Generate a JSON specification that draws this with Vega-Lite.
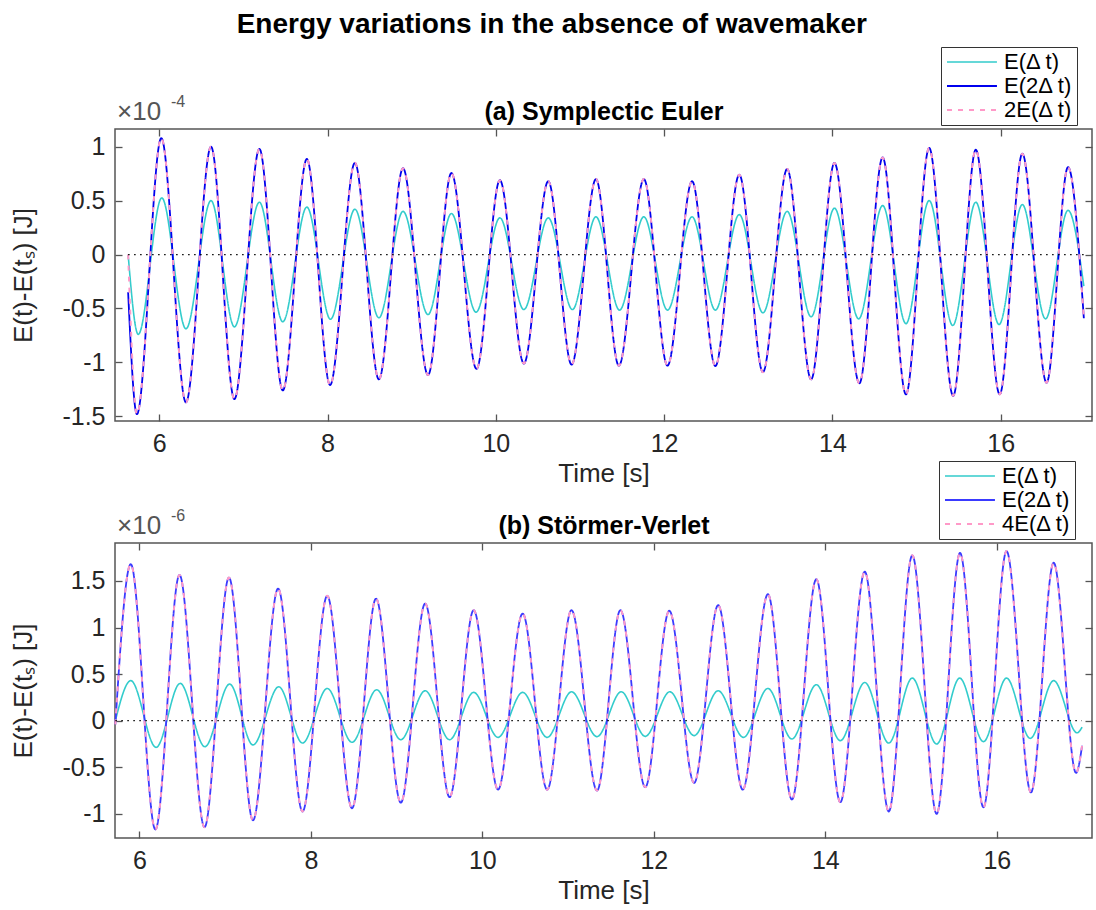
{
"$schema": "https://vega.github.io/schema/vega-lite/v6.json",
"background": "white",
"padding": {"left": 10, "top": 10, "right": 0, "bottom": 0},
"title": {"text": "Energy variations in the absence of wavemaker", "fontSize": 28, "fontWeight": "bold", "anchor": "middle", "color": "black", "offset": 7},
"datasets": {
"a": [
{"s":"E(Δ t)","t":5.63,"v":0},{"s":"E(Δ t)","t":5.75,"v":-0.74},{"s":"E(Δ t)","t":6.03,"v":0.525},{"s":"E(Δ t)","t":6.317,"v":-0.688},{"s":"E(Δ t)","t":6.615,"v":0.5},{"s":"E(Δ t)","t":6.893,"v":-0.67},{"s":"E(Δ t)","t":7.19,"v":0.485},{"s":"E(Δ t)","t":7.468,"v":-0.623},{"s":"E(Δ t)","t":7.754,"v":0.44},{"s":"E(Δ t)","t":8.035,"v":-0.6},{"s":"E(Δ t)","t":8.325,"v":0.42},{"s":"E(Δ t)","t":8.61,"v":-0.586},{"s":"E(Δ t)","t":8.897,"v":0.4},{"s":"E(Δ t)","t":9.194,"v":-0.556},{"s":"E(Δ t)","t":9.472,"v":0.38},{"s":"E(Δ t)","t":9.765,"v":-0.534},{"s":"E(Δ t)","t":10.048,"v":0.34},{"s":"E(Δ t)","t":10.333,"v":-0.51},{"s":"E(Δ t)","t":10.623,"v":0.34},{"s":"E(Δ t)","t":10.91,"v":-0.51},{"s":"E(Δ t)","t":11.19,"v":0.35},{"s":"E(Δ t)","t":11.47,"v":-0.515},{"s":"E(Δ t)","t":11.759,"v":0.35},{"s":"E(Δ t)","t":12.04,"v":-0.515},{"s":"E(Δ t)","t":12.332,"v":0.35},{"s":"E(Δ t)","t":12.609,"v":-0.515},{"s":"E(Δ t)","t":12.893,"v":0.37},{"s":"E(Δ t)","t":13.174,"v":-0.54},{"s":"E(Δ t)","t":13.462,"v":0.4},{"s":"E(Δ t)","t":13.747,"v":-0.577},{"s":"E(Δ t)","t":14.024,"v":0.43},{"s":"E(Δ t)","t":14.312,"v":-0.596},{"s":"E(Δ t)","t":14.597,"v":0.454},{"s":"E(Δ t)","t":14.874,"v":-0.64},{"s":"E(Δ t)","t":15.15,"v":0.5},{"s":"E(Δ t)","t":15.43,"v":-0.657},{"s":"E(Δ t)","t":15.704,"v":0.485},{"s":"E(Δ t)","t":15.98,"v":-0.648},{"s":"E(Δ t)","t":16.257,"v":0.463},{"s":"E(Δ t)","t":16.533,"v":-0.596},{"s":"E(Δ t)","t":16.8,"v":0.41},{"s":"E(Δ t)","t":16.988,"v":-0.293},
{"s":"E(2Δ t)","t":5.63,"v":-0.35},{"s":"E(2Δ t)","t":5.734,"v":-1.48},{"s":"E(2Δ t)","t":6.024,"v":1.08},{"s":"E(2Δ t)","t":6.317,"v":-1.37},{"s":"E(2Δ t)","t":6.615,"v":1.0},{"s":"E(2Δ t)","t":6.893,"v":-1.34},{"s":"E(2Δ t)","t":7.19,"v":0.98},{"s":"E(2Δ t)","t":7.468,"v":-1.26},{"s":"E(2Δ t)","t":7.754,"v":0.886},{"s":"E(2Δ t)","t":8.03,"v":-1.21},{"s":"E(2Δ t)","t":8.325,"v":0.85},{"s":"E(2Δ t)","t":8.61,"v":-1.157},{"s":"E(2Δ t)","t":8.897,"v":0.8},{"s":"E(2Δ t)","t":9.194,"v":-1.117},{"s":"E(2Δ t)","t":9.472,"v":0.756},{"s":"E(2Δ t)","t":9.77,"v":-1.06},{"s":"E(2Δ t)","t":10.048,"v":0.69},{"s":"E(2Δ t)","t":10.333,"v":-1.01},{"s":"E(2Δ t)","t":10.623,"v":0.68},{"s":"E(2Δ t)","t":10.9,"v":-1.02},{"s":"E(2Δ t)","t":11.19,"v":0.7},{"s":"E(2Δ t)","t":11.462,"v":-1.03},{"s":"E(2Δ t)","t":11.759,"v":0.7},{"s":"E(2Δ t)","t":12.04,"v":-1.03},{"s":"E(2Δ t)","t":12.332,"v":0.68},{"s":"E(2Δ t)","t":12.609,"v":-1.034},{"s":"E(2Δ t)","t":12.893,"v":0.74},{"s":"E(2Δ t)","t":13.174,"v":-1.09},{"s":"E(2Δ t)","t":13.462,"v":0.793},{"s":"E(2Δ t)","t":13.747,"v":-1.157},{"s":"E(2Δ t)","t":14.024,"v":0.849},{"s":"E(2Δ t)","t":14.32,"v":-1.194},{"s":"E(2Δ t)","t":14.597,"v":0.9},{"s":"E(2Δ t)","t":14.874,"v":-1.296},{"s":"E(2Δ t)","t":15.15,"v":0.988},{"s":"E(2Δ t)","t":15.435,"v":-1.31},{"s":"E(2Δ t)","t":15.704,"v":0.972},{"s":"E(2Δ t)","t":15.988,"v":-1.296},{"s":"E(2Δ t)","t":16.257,"v":0.935},{"s":"E(2Δ t)","t":16.545,"v":-1.188},{"s":"E(2Δ t)","t":16.8,"v":0.81},{"s":"E(2Δ t)","t":16.988,"v":-0.59},
{"s":"2E(Δ t)","t":5.63,"v":0},{"s":"2E(Δ t)","t":5.734,"v":-1.48},{"s":"2E(Δ t)","t":6.024,"v":1.08},{"s":"2E(Δ t)","t":6.317,"v":-1.37},{"s":"2E(Δ t)","t":6.615,"v":1.0},{"s":"2E(Δ t)","t":6.893,"v":-1.34},{"s":"2E(Δ t)","t":7.19,"v":0.98},{"s":"2E(Δ t)","t":7.468,"v":-1.26},{"s":"2E(Δ t)","t":7.754,"v":0.886},{"s":"2E(Δ t)","t":8.03,"v":-1.21},{"s":"2E(Δ t)","t":8.325,"v":0.85},{"s":"2E(Δ t)","t":8.61,"v":-1.157},{"s":"2E(Δ t)","t":8.897,"v":0.8},{"s":"2E(Δ t)","t":9.194,"v":-1.117},{"s":"2E(Δ t)","t":9.472,"v":0.756},{"s":"2E(Δ t)","t":9.77,"v":-1.06},{"s":"2E(Δ t)","t":10.048,"v":0.69},{"s":"2E(Δ t)","t":10.333,"v":-1.01},{"s":"2E(Δ t)","t":10.623,"v":0.68},{"s":"2E(Δ t)","t":10.9,"v":-1.02},{"s":"2E(Δ t)","t":11.19,"v":0.7},{"s":"2E(Δ t)","t":11.462,"v":-1.03},{"s":"2E(Δ t)","t":11.759,"v":0.7},{"s":"2E(Δ t)","t":12.04,"v":-1.03},{"s":"2E(Δ t)","t":12.332,"v":0.68},{"s":"2E(Δ t)","t":12.609,"v":-1.034},{"s":"2E(Δ t)","t":12.893,"v":0.74},{"s":"2E(Δ t)","t":13.174,"v":-1.09},{"s":"2E(Δ t)","t":13.462,"v":0.793},{"s":"2E(Δ t)","t":13.747,"v":-1.157},{"s":"2E(Δ t)","t":14.024,"v":0.849},{"s":"2E(Δ t)","t":14.32,"v":-1.194},{"s":"2E(Δ t)","t":14.597,"v":0.9},{"s":"2E(Δ t)","t":14.874,"v":-1.296},{"s":"2E(Δ t)","t":15.15,"v":0.988},{"s":"2E(Δ t)","t":15.435,"v":-1.31},{"s":"2E(Δ t)","t":15.704,"v":0.972},{"s":"2E(Δ t)","t":15.988,"v":-1.296},{"s":"2E(Δ t)","t":16.257,"v":0.935},{"s":"2E(Δ t)","t":16.545,"v":-1.188},{"s":"2E(Δ t)","t":16.8,"v":0.81},{"s":"2E(Δ t)","t":16.988,"v":-0.59}
],
"b": [
{"s":"E(Δ t)","t":5.72,"v":0},{"s":"E(Δ t)","t":5.9,"v":0.43},{"s":"E(Δ t)","t":6.195,"v":-0.286},{"s":"E(Δ t)","t":6.476,"v":0.4},{"s":"E(Δ t)","t":6.764,"v":-0.279},{"s":"E(Δ t)","t":7.053,"v":0.393},{"s":"E(Δ t)","t":7.325,"v":-0.26},{"s":"E(Δ t)","t":7.626,"v":0.364},{"s":"E(Δ t)","t":7.903,"v":-0.24},{"s":"E(Δ t)","t":8.191,"v":0.346},{"s":"E(Δ t)","t":8.48,"v":-0.232},{"s":"E(Δ t)","t":8.768,"v":0.332},{"s":"E(Δ t)","t":9.049,"v":-0.204},{"s":"E(Δ t)","t":9.333,"v":0.321},{"s":"E(Δ t)","t":9.618,"v":-0.204},{"s":"E(Δ t)","t":9.899,"v":0.304},{"s":"E(Δ t)","t":10.183,"v":-0.179},{"s":"E(Δ t)","t":10.47,"v":0.304},{"s":"E(Δ t)","t":10.756,"v":-0.179},{"s":"E(Δ t)","t":11.04,"v":0.31},{"s":"E(Δ t)","t":11.337,"v":-0.171},{"s":"E(Δ t)","t":11.62,"v":0.31},{"s":"E(Δ t)","t":11.9,"v":-0.168},{"s":"E(Δ t)","t":12.187,"v":0.31},{"s":"E(Δ t)","t":12.47,"v":-0.16},{"s":"E(Δ t)","t":12.75,"v":0.321},{"s":"E(Δ t)","t":13.045,"v":-0.179},{"s":"E(Δ t)","t":13.33,"v":0.346},{"s":"E(Δ t)","t":13.61,"v":-0.196},{"s":"E(Δ t)","t":13.895,"v":0.386},{"s":"E(Δ t)","t":14.175,"v":-0.214},{"s":"E(Δ t)","t":14.46,"v":0.41},{"s":"E(Δ t)","t":14.74,"v":-0.24},{"s":"E(Δ t)","t":15.014,"v":0.457},{"s":"E(Δ t)","t":15.298,"v":-0.25},{"s":"E(Δ t)","t":15.567,"v":0.457},{"s":"E(Δ t)","t":15.844,"v":-0.225},{"s":"E(Δ t)","t":16.113,"v":0.457},{"s":"E(Δ t)","t":16.39,"v":-0.19},{"s":"E(Δ t)","t":16.663,"v":0.43},{"s":"E(Δ t)","t":16.936,"v":-0.13},{"s":"E(Δ t)","t":16.994,"v":-0.07},
{"s":"E(2Δ t)","t":5.72,"v":-0.04},{"s":"E(2Δ t)","t":5.9,"v":1.68},{"s":"E(2Δ t)","t":6.187,"v":-1.168},{"s":"E(2Δ t)","t":6.468,"v":1.564},{"s":"E(2Δ t)","t":6.76,"v":-1.143},{"s":"E(2Δ t)","t":7.045,"v":1.536},{"s":"E(2Δ t)","t":7.325,"v":-1.07},{"s":"E(2Δ t)","t":7.618,"v":1.418},{"s":"E(2Δ t)","t":7.903,"v":-0.975},{"s":"E(2Δ t)","t":8.191,"v":1.34},{"s":"E(2Δ t)","t":8.48,"v":-0.94},{"s":"E(2Δ t)","t":8.76,"v":1.31},{"s":"E(2Δ t)","t":9.049,"v":-0.88},{"s":"E(2Δ t)","t":9.333,"v":1.257},{"s":"E(2Δ t)","t":9.618,"v":-0.82},{"s":"E(2Δ t)","t":9.899,"v":1.186},{"s":"E(2Δ t)","t":10.183,"v":-0.74},{"s":"E(2Δ t)","t":10.47,"v":1.15},{"s":"E(2Δ t)","t":10.756,"v":-0.74},{"s":"E(2Δ t)","t":11.04,"v":1.186},{"s":"E(2Δ t)","t":11.337,"v":-0.75},{"s":"E(2Δ t)","t":11.61,"v":1.186},{"s":"E(2Δ t)","t":11.9,"v":-0.714},{"s":"E(2Δ t)","t":12.18,"v":1.18},{"s":"E(2Δ t)","t":12.47,"v":-0.668},{"s":"E(2Δ t)","t":12.75,"v":1.24},{"s":"E(2Δ t)","t":13.037,"v":-0.74},{"s":"E(2Δ t)","t":13.33,"v":1.357},{"s":"E(2Δ t)","t":13.61,"v":-0.846},{"s":"E(2Δ t)","t":13.895,"v":1.518},{"s":"E(2Δ t)","t":14.175,"v":-0.875},{"s":"E(2Δ t)","t":14.46,"v":1.6},{"s":"E(2Δ t)","t":14.74,"v":-0.975},{"s":"E(2Δ t)","t":15.014,"v":1.775},{"s":"E(2Δ t)","t":15.298,"v":-1.0},{"s":"E(2Δ t)","t":15.571,"v":1.8},{"s":"E(2Δ t)","t":15.844,"v":-0.93},{"s":"E(2Δ t)","t":16.113,"v":1.82},{"s":"E(2Δ t)","t":16.398,"v":-0.77},{"s":"E(2Δ t)","t":16.663,"v":1.696},{"s":"E(2Δ t)","t":16.924,"v":-0.56},{"s":"E(2Δ t)","t":16.994,"v":-0.27},
{"s":"4E(Δ t)","t":5.72,"v":-0.04},{"s":"4E(Δ t)","t":5.9,"v":1.68},{"s":"4E(Δ t)","t":6.187,"v":-1.168},{"s":"4E(Δ t)","t":6.468,"v":1.564},{"s":"4E(Δ t)","t":6.76,"v":-1.143},{"s":"4E(Δ t)","t":7.045,"v":1.536},{"s":"4E(Δ t)","t":7.325,"v":-1.07},{"s":"4E(Δ t)","t":7.618,"v":1.418},{"s":"4E(Δ t)","t":7.903,"v":-0.975},{"s":"4E(Δ t)","t":8.191,"v":1.34},{"s":"4E(Δ t)","t":8.48,"v":-0.94},{"s":"4E(Δ t)","t":8.76,"v":1.31},{"s":"4E(Δ t)","t":9.049,"v":-0.88},{"s":"4E(Δ t)","t":9.333,"v":1.257},{"s":"4E(Δ t)","t":9.618,"v":-0.82},{"s":"4E(Δ t)","t":9.899,"v":1.186},{"s":"4E(Δ t)","t":10.183,"v":-0.74},{"s":"4E(Δ t)","t":10.47,"v":1.15},{"s":"4E(Δ t)","t":10.756,"v":-0.74},{"s":"4E(Δ t)","t":11.04,"v":1.186},{"s":"4E(Δ t)","t":11.337,"v":-0.75},{"s":"4E(Δ t)","t":11.61,"v":1.186},{"s":"4E(Δ t)","t":11.9,"v":-0.714},{"s":"4E(Δ t)","t":12.18,"v":1.18},{"s":"4E(Δ t)","t":12.47,"v":-0.668},{"s":"4E(Δ t)","t":12.75,"v":1.24},{"s":"4E(Δ t)","t":13.037,"v":-0.74},{"s":"4E(Δ t)","t":13.33,"v":1.357},{"s":"4E(Δ t)","t":13.61,"v":-0.846},{"s":"4E(Δ t)","t":13.895,"v":1.518},{"s":"4E(Δ t)","t":14.175,"v":-0.875},{"s":"4E(Δ t)","t":14.46,"v":1.6},{"s":"4E(Δ t)","t":14.74,"v":-0.975},{"s":"4E(Δ t)","t":15.014,"v":1.775},{"s":"4E(Δ t)","t":15.298,"v":-1.0},{"s":"4E(Δ t)","t":15.571,"v":1.8},{"s":"4E(Δ t)","t":15.844,"v":-0.93},{"s":"4E(Δ t)","t":16.113,"v":1.82},{"s":"4E(Δ t)","t":16.398,"v":-0.77},{"s":"4E(Δ t)","t":16.663,"v":1.696},{"s":"4E(Δ t)","t":16.924,"v":-0.56},{"s":"4E(Δ t)","t":16.994,"v":-0.27}
]
},
"spacing": 122,
"bounds": "flush",
"vconcat": [
{
"width": 977, "height": 292,
"layer": [
{"data": {"name": "a"},
 "mark": {"type": "line", "interpolate": "monotone"},
 "encoding": {
  "x": {"field": "t", "type": "quantitative", "scale": {"domain": [5.474, 17.085], "nice": false, "zero": false}, "axis": {"values": [6,8,10,12,14,16], "title": "Time [s]"}},
  "y": {"field": "v", "type": "quantitative", "scale": {"domain": [-1.543, 1.164], "nice": false, "zero": false}, "axis": {"values": [-1.5,-1,-0.5,0,0.5,1], "title": "E(t)-E(tₛ) [J]", "labelExpr": "'' + datum.value"}},
  "color": {"field": "s", "type": "nominal", "scale": {"domain": ["E(Δ t)","E(2Δ t)","2E(Δ t)"], "range": ["#33cccc","#0000ee","#ff99c8"]},
   "legend": {"orient": "none", "legendX": 826, "legendY": -82, "title": null, "symbolType": "M-1,0H4.55", "symbolSize": 324, "symbolStrokeWidth": 2, "labelFontSize": 22, "labelOffset": 37, "rowPadding": 2, "padding": 4, "strokeColor": "#333333", "fillColor": "white", "labelColor": "black"}},
  "strokeDash": {"field": "s", "type": "nominal", "scale": {"domain": ["E(Δ t)","E(2Δ t)","2E(Δ t)"], "range": [[1,0],[1,0],[5,6]]},
   "legend": {"orient": "none", "legendX": 826, "legendY": -82, "title": null, "symbolType": "M-1,0H4.55", "symbolSize": 324, "symbolStrokeWidth": 2, "labelFontSize": 22, "labelOffset": 37, "rowPadding": 2, "padding": 4, "strokeColor": "#333333", "fillColor": "white", "labelColor": "black"}},
  "strokeWidth": {"field": "s", "type": "ordinal", "scale": {"domain": ["E(Δ t)","E(2Δ t)","2E(Δ t)"], "range": [1.6, 2, 3]}, "legend": null}
 }},
{"data": {"values": [{}]},
 "mark": {"type": "rule", "color": "black", "strokeDash": [1.5, 4.5], "strokeWidth": 1.3},
 "encoding": {
  "x": {"datum": 5.63, "type": "quantitative", "axis": {"orient": "top", "labels": false, "title": "(a) Symplectic Euler", "titleFontWeight": "bold", "titleFontSize": 25, "titleColor": "black", "titlePadding": 4, "values": [6,8,10,12,14,16]}},
  "x2": {"datum": 16.99},
  "y": {"datum": 0, "type": "quantitative", "axis": {"orient": "right", "labels": false, "title": null, "values": [-1.5,-1,-0.5,0,0.5,1]}}
 }},
{"data": {"values": [{"lbl": "×10"}]},
 "mark": {"type": "text", "align": "left", "baseline": "alphabetic", "fontSize": 26, "color": "#555555", "dx": 2, "dy": -9},
 "encoding": {
  "x": {"datum": 5.474, "type": "quantitative", "axis": null},
  "y": {"datum": 1.164, "type": "quantitative", "axis": null},
  "text": {"field": "lbl"}
 }},
{"data": {"values": [{"lbl": "-4"}]},
 "mark": {"type": "text", "align": "left", "baseline": "alphabetic", "fontSize": 16, "color": "#555555", "dx": 56, "dy": -22},
 "encoding": {
  "x": {"datum": 5.474, "type": "quantitative", "axis": null},
  "y": {"datum": 1.164, "type": "quantitative", "axis": null},
  "text": {"field": "lbl"}
 }}
],
"resolve": {"axis": {"x": "independent", "y": "independent"}}
},
{
"width": 977, "height": 295,
"layer": [
{"data": {"name": "b"},
 "mark": {"type": "line", "interpolate": "monotone"},
 "encoding": {
  "x": {"field": "t", "type": "quantitative", "scale": {"domain": [5.716, 17.11], "nice": false, "zero": false}, "axis": {"values": [6,8,10,12,14,16], "title": "Time [s]"}},
  "y": {"field": "v", "type": "quantitative", "scale": {"domain": [-1.259, 1.907], "nice": false, "zero": false}, "axis": {"values": [-1,-0.5,0,0.5,1,1.5], "title": "E(t)-E(tₛ) [J]", "labelExpr": "'' + datum.value"}},
  "color": {"field": "s", "type": "nominal", "scale": {"domain": ["E(Δ t)","E(2Δ t)","4E(Δ t)"], "range": ["#33cccc","#3a3aff","#ff99c8"]},
   "legend": {"orient": "none", "legendX": 824, "legendY": -82, "title": null, "symbolType": "M-1,0H4.55", "symbolSize": 324, "symbolStrokeWidth": 2, "labelFontSize": 22, "labelOffset": 37, "rowPadding": 2, "padding": 4, "strokeColor": "#333333", "fillColor": "white", "labelColor": "black"}},
  "strokeDash": {"field": "s", "type": "nominal", "scale": {"domain": ["E(Δ t)","E(2Δ t)","4E(Δ t)"], "range": [[1,0],[1,0],[5,6]]},
   "legend": {"orient": "none", "legendX": 824, "legendY": -82, "title": null, "symbolType": "M-1,0H4.55", "symbolSize": 324, "symbolStrokeWidth": 2, "labelFontSize": 22, "labelOffset": 37, "rowPadding": 2, "padding": 4, "strokeColor": "#333333", "fillColor": "white", "labelColor": "black"}},
  "strokeWidth": {"field": "s", "type": "ordinal", "scale": {"domain": ["E(Δ t)","E(2Δ t)","4E(Δ t)"], "range": [1.6, 2, 3]}, "legend": null}
 }},
{"data": {"values": [{}]},
 "mark": {"type": "rule", "color": "black", "strokeDash": [1.5, 4.5], "strokeWidth": 1.3},
 "encoding": {
  "x": {"datum": 5.72, "type": "quantitative", "axis": {"orient": "top", "labels": false, "title": "(b) Störmer-Verlet", "titleFontWeight": "bold", "titleFontSize": 25, "titleColor": "black", "titlePadding": 4, "values": [6,8,10,12,14,16]}},
  "x2": {"datum": 16.99},
  "y": {"datum": 0, "type": "quantitative", "axis": {"orient": "right", "labels": false, "title": null, "values": [-1,-0.5,0,0.5,1,1.5]}}
 }},
{"data": {"values": [{"lbl": "×10"}]},
 "mark": {"type": "text", "align": "left", "baseline": "alphabetic", "fontSize": 26, "color": "#555555", "dx": 2, "dy": -9},
 "encoding": {
  "x": {"datum": 5.716, "type": "quantitative", "axis": null},
  "y": {"datum": 1.907, "type": "quantitative", "axis": null},
  "text": {"field": "lbl"}
 }},
{"data": {"values": [{"lbl": "-6"}]},
 "mark": {"type": "text", "align": "left", "baseline": "alphabetic", "fontSize": 16, "color": "#555555", "dx": 56, "dy": -22},
 "encoding": {
  "x": {"datum": 5.716, "type": "quantitative", "axis": null},
  "y": {"datum": 1.907, "type": "quantitative", "axis": null},
  "text": {"field": "lbl"}
 }}
],
"resolve": {"axis": {"x": "independent", "y": "independent"}}
}
],
"resolve": {"scale": {"color": "independent", "strokeDash": "independent", "strokeWidth": "independent", "x": "independent", "y": "independent"}, "legend": {"color": "independent", "strokeDash": "independent"}},
"config": {
 "font": "Liberation Sans",
 "view": {"stroke": "#555555", "strokeWidth": 1.5},
 "axis": {"grid": false, "domain": false, "tickColor": "#555555", "tickSize": 7, "offset": -7, "tickWidth": 1.3, "labelFontSize": 25, "labelColor": "#262626", "titleFontSize": 26, "titleColor": "#262626", "titleFontWeight": "normal", "labelPadding": 10},
 "axisX": {"titlePadding": 4},
 "axisY": {"titlePadding": 25}
}
}
